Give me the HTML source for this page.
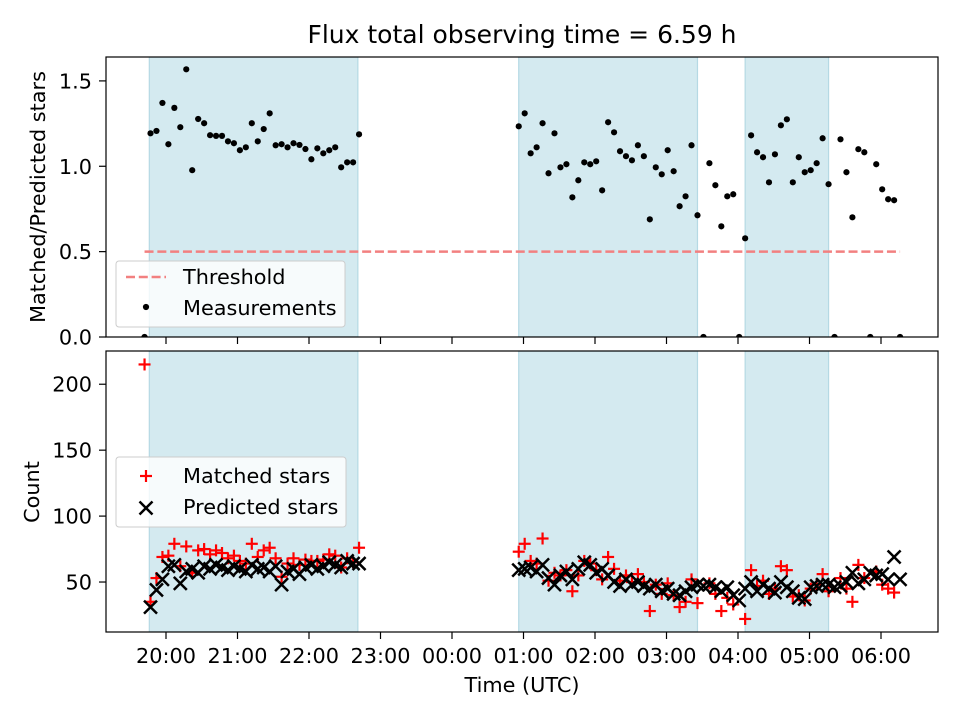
<!DOCTYPE html>
<html><head><meta charset="utf-8"><style>
body{margin:0;background:#fff}
svg text{font-family:"DejaVu Sans","Liberation Sans",sans-serif;fill:#000}
</style></head><body>
<svg id="chart" width="960" height="720" viewBox="0 0 960 720" xmlns="http://www.w3.org/2000/svg"></svg>
<script>
// ---- data ----
const seg1Times = ["19:42","19:47","19:52","19:57","20:02","20:07","20:12","20:17","20:22","20:27","20:32","20:37","20:42","20:47","20:52","20:57","21:02","21:07","21:12","21:17","21:22","21:27","21:32","21:37","21:42","21:47","21:52","21:57","22:02","22:07","22:12","22:17","22:22","22:27","22:32","22:37","22:42"];
const seg1Ratio = [0,1.193,1.207,1.371,1.129,1.342,1.229,1.568,0.977,1.277,1.252,1.182,1.178,1.178,1.146,1.135,1.094,1.111,1.252,1.146,1.218,1.310,1.123,1.129,1.111,1.135,1.125,1.101,1.041,1.105,1.076,1.094,1.111,0.994,1.023,1.023,1.187];
const seg1Matched = [215,35,53,69,70,79,62,77,57,74,75,71,74,72,68,70,66,64,79,69,74,76,68,54,64,68,63,67,66,66,67,71,70,61,68,65,76];
const seg1Predicted = [null,31,44,52,62,63,49,58,60,57,62,60,63,61,59,62,60,58,63,60,61,58,62,48,58,60,56,61,63,60,62,65,63,61,66,64,64];
const seg2Times = ["00:56","01:01","01:06","01:11","01:16","01:21","01:26","01:31","01:36","01:41","01:46","01:51","01:56","02:01","02:06","02:11","02:16","02:21","02:26","02:31","02:36","02:41","02:46","02:51","02:56","03:01","03:06","03:11","03:16","03:21","03:26","03:31","03:36","03:41","03:46","03:51","03:56","04:01","04:06","04:11","04:16","04:21","04:26","04:31","04:36","04:41","04:46","04:51","04:56","05:01","05:06","05:11","05:16","05:21","05:26","05:31","05:36","05:41","05:46","05:51","05:56","06:01","06:06","06:11","06:16"];
const seg2Ratio = [1.234,1.31,1.076,1.111,1.252,0.959,1.193,0.994,1.012,0.818,0.918,1.023,1.012,1.029,0.859,1.258,1.199,1.088,1.059,1.035,1.123,1.059,0.689,0.994,0.953,1.094,0.971,0.766,0.824,1.123,0.713,0,1.018,0.889,0.648,0.824,0.836,0,0.578,1.181,1.082,1.053,0.906,1.070,1.24,1.275,0.906,1.053,0.965,0.977,1.018,1.164,0.895,0,1.158,0.965,0.701,1.1,1.082,0,1.012,0.865,0.807,0.801,0];
const seg2Predicted = [59,60,61,58,63,53,48,55,58,52,60,65,63,57,60,55,50,47,52,48,50,47,45,48,43,45,41,40,43,46,48,47,48,46,43,46,40,36,45,50,43,48,45,42,50,46,43,38,37,46,47,48,48,46,47,50,57,49,52,57,55,56,52,69,52];
const seg2Matched = [73,79,66,64,83,51,57,55,59,43,55,66,64,59,52,69,60,51,55,50,56,50,28,48,41,49,40,31,35,52,34,0,49,41,28,38,33,0,22,59,47,51,41,45,62,59,39,40,36,45,48,56,43,0,53,45,35,63,53,0,58,48,45,42,0];
const spans = [["19:46","22:41"],["00:56","03:26"],["04:06","05:16"]];
const xTickLabels = ["20:00","21:00","22:00","23:00","00:00","01:00","02:00","03:00","04:00","05:00","06:00"];
const topTicks = [0,0.5,1.0,1.5];
const botTicks = [50,100,150,200];
const threshold = 0.5;
const thresholdRange = ["19:42","06:16"];

// ---- scales ----
const NS="http://www.w3.org/2000/svg", svg=document.getElementById('chart');
const L=106,R=938, T1=57,B1=337, T2=351,B2=632;
const FS=20.8;
function tmin(s){let [h,m]=s.split(':').map(Number);if(h<12)h+=24;return h*60+m-1140;}
function xs(s){return 166+(tmin(s)-60)*71.5/60;}
function y1(v){return B1-(v-0)*(B1-T1)/1.64;}
function y2(v){return B2-(v-12.1)*(B2-T2)/(225.2-12.1);}
function el(tag,a,parent){const e=document.createElementNS(NS,tag);for(const k in a)e.setAttribute(k,a[k]);(parent||svg).appendChild(e);return e;}
function txt(s,a,p){const e=el('text',a,p);e.textContent=s;return e;}

const defs=el('defs',{});
const c1=el('clipPath',{id:'c1'},defs);el('rect',{x:L,y:T1,width:R-L,height:B1-T1},c1);
const c2=el('clipPath',{id:'c2'},defs);el('rect',{x:L,y:T2,width:R-L,height:B2-T2},c2);

txt("Flux total observing time = 6.59 h",{x:522,y:43,'text-anchor':'middle','font-size':'25',});

[[T1,B1,'c1','top'],[T2,B2,'c2','bottom']].forEach(([T,B,cid,nm])=>{
  const g=el('g',{'clip-path':`url(#${cid})`});
  
  
  spans.forEach(sp=>{
    const r=el('rect',{x:xs(sp[0]),y:T,width:xs(sp[1])-xs(sp[0]),height:B-T,fill:'#d4eaf0',stroke:'#b5d9e4','stroke-width':1.2},g);
    
    
  });
});

// top panel
const gTop=el('g',{'clip-path':'url(#c1)'});


const th=el('line',{x1:xs(thresholdRange[0]),x2:xs(thresholdRange[1]),y1:y1(threshold),y2:y1(threshold),stroke:'#f28080','stroke-width':2.4,'stroke-dasharray':'9,3.8'},gTop);


[[seg1Times,seg1Ratio],[seg2Times,seg2Ratio]].forEach(([ts,vs])=>{
  ts.forEach((t,i)=>{
    const c=el('circle',{cx:xs(t),cy:y1(vs[i]),r:3.1,fill:'#000'},gTop);
    
    
  });
});

// bottom panel
const gBot=el('g',{'clip-path':'url(#c2)'});


function plus(x,y,p){const g=el('g',{stroke:'#ff0000','stroke-width':2.2},p);el('line',{x1:x-6,x2:x+6,y1:y,y2:y},g);el('line',{x1:x,x2:x,y1:y-6,y2:y+6},g);return g;}
function cross(x,y,p){const g=el('g',{stroke:'#000','stroke-width':2.5},p);el('line',{x1:x-6.5,x2:x+6.5,y1:y-6.5,y2:y+6.5},g);el('line',{x1:x-6.5,x2:x+6.5,y1:y+6.5,y2:y-6.5},g);return g;}
[[seg1Times,seg1Matched],[seg2Times,seg2Matched]].forEach(([ts,vs])=>{
  ts.forEach((t,i)=>{if(vs[i]==null)return;
    const g=plus(xs(t),y2(vs[i]),gBot);
    
    
  });
});
[[seg1Times,seg1Predicted],[seg2Times,seg2Predicted]].forEach(([ts,vs])=>{
  ts.forEach((t,i)=>{if(vs[i]==null)return;
    const g=cross(xs(t),y2(vs[i]),gBot);
    
    
  });
});

// axes frames
[[T1,B1,'top-axes-frame'],[T2,B2,'bottom-axes-frame']].forEach(([T,B,n])=>{
  const r=el('rect',{x:L,y:T,width:R-L,height:B-T,fill:'none',stroke:'#000','stroke-width':1.2});
  
  
});
// x ticks
xTickLabels.forEach(lb=>{
  const x=xs(lb);
  el('line',{x1:x,x2:x,y1:B1,y2:B1+7,stroke:'#000','stroke-width':1.2});
  el('line',{x1:x,x2:x,y1:B2,y2:B2+7,stroke:'#000','stroke-width':1.2});
  const t=txt(lb,{x:x,y:B2+31,'text-anchor':'middle','font-size':FS});
  
  
});
topTicks.forEach(v=>{
  const y=y1(v);el('line',{x1:L-7,x2:L,y1:y,y2:y,stroke:'#000','stroke-width':1.2});
  const t=txt(v.toFixed(1),{x:L-14,y:y+7.5,'text-anchor':'end','font-size':FS});
  
  
});
botTicks.forEach(v=>{
  const y=y2(v);el('line',{x1:L-7,x2:L,y1:y,y2:y,stroke:'#000','stroke-width':1.2});
  const t=txt(String(v),{x:L-14,y:y+7.5,'text-anchor':'end','font-size':FS});
  
  
});
txt("Matched/Predicted stars",{x:0,y:0,transform:'translate(45,197) rotate(-90)','text-anchor':'middle','font-size':FS,});
txt("Count",{x:0,y:0,transform:'translate(39,492) rotate(-90)','text-anchor':'middle','font-size':FS,});
txt("Time (UTC)",{x:522,y:692,'text-anchor':'middle','font-size':FS,});

// legends
const lg1=el('g',{});
el('rect',{x:116,y:261,width:229,height:66,rx:3,fill:'#fff','fill-opacity':0.8,stroke:'#ccc'},lg1);
el('line',{x1:126,x2:166,y1:277,y2:277,stroke:'#f28080','stroke-width':2.4,'stroke-dasharray':'9,3.8'},lg1);
txt("Threshold",{x:183,y:284,'font-size':FS,},lg1);
el('circle',{cx:146,cy:307,r:3.1,fill:'#000'},lg1);
txt("Measurements",{x:183,y:315,'font-size':FS,},lg1);

const lg2=el('g',{});
el('rect',{x:116,y:457,width:230,height:70,rx:3,fill:'#fff','fill-opacity':0.8,stroke:'#ccc'},lg2);
plus(146,476,lg2);
txt("Matched stars",{x:183,y:483,'font-size':FS,},lg2);
cross(146,508,lg2);
txt("Predicted stars",{x:183,y:514,'font-size':FS,},lg2);
</script>
</body></html>
